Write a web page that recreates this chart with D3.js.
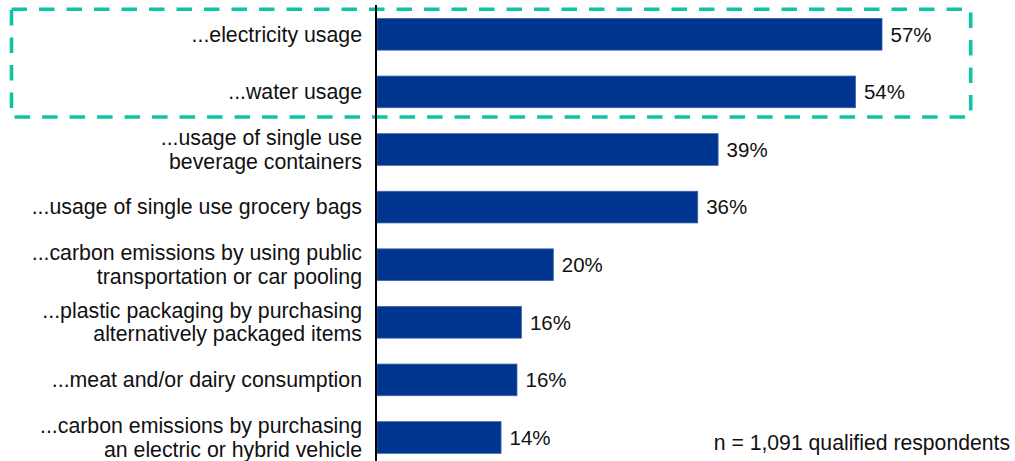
<!DOCTYPE html>
<html>
<head>
<meta charset="utf-8">
<script src="https://cdn.jsdelivr.net/npm/d3@7"></script>
<style>
  html, body { margin: 0; padding: 0; background: #fff; }
  svg { display: block; }
  text { font-family: "Liberation Sans", Arial, sans-serif; fill: #111; }
</style>
</head>
<body>
<svg id="chart" width="1015" height="461"></svg>
<script>
// ---- data ----
const categories = [
  ["...electricity usage"],
  ["...water usage"],
  ["...usage of single use", "beverage containers"],
  ["...usage of single use grocery bags"],
  ["...carbon emissions by using public", "transportation or car pooling"],
  ["...plastic packaging by purchasing", "alternatively packaged items"],
  ["...meat and/or dairy consumption"],
  ["...carbon emissions by purchasing", "an electric or hybrid vehicle"]
];
const values = [57.0, 54.0, 38.5, 36.2, 19.9, 16.3, 15.8, 14.0];
const highlighted = [0, 1];
const footnote = "n = 1,091 qualified respondents";

// ---- layout ----
const svg = d3.select("#chart");
const axisX = 377;
const x = d3.scaleLinear().domain([0, 100]).range([axisX, axisX + 886]);
const keys = categories.map((c, i) => i);
const y = d3.scaleBand().domain(keys).range([5.5, 466.3]).paddingInner(0.45).paddingOuter(0.225);

// highlight box
const hy0 = y(highlighted[0]) - 9.2;
const hy1 = y(highlighted[highlighted.length - 1]) + y.bandwidth() + 9.2;
svg.append("rect")
  .attr("x", 11.5).attr("y", hy0)
  .attr("width", 970.7 - 11.5).attr("height", hy1 - hy0)
  .attr("fill", "none")
  .attr("stroke", "#0fc3a6")
  .attr("stroke-width", 3.6)
  .attr("stroke-dasharray", "15.5,12");

// bars
svg.append("g").selectAll("rect")
  .data(values)
  .join("rect")
  .attr("x", x(0))
  .attr("y", (d, i) => y(i))
  .attr("width", d => x(d) - x(0))
  .attr("height", y.bandwidth())
  .attr("fill", "#00358f")
  .attr("stroke", "#3f63aa")
  .attr("stroke-width", 0.8);

// value labels
svg.append("g").selectAll("text")
  .data(values)
  .join("text")
  .attr("x", d => x(d) + 8.5)
  .attr("y", (d, i) => y(i) + y.bandwidth() / 2 + 7.3)
  .attr("font-size", 20.5)
  .text(d => Math.round(d) + "%");

// category labels
const lineH = 23.6;
const lab = svg.append("g").selectAll("text")
  .data(categories)
  .join("text")
  .attr("text-anchor", "end")
  .attr("font-size", 21.3)
  .attr("y", (d, i) => y(i) + y.bandwidth() / 2 + 7.3 - (d.length - 1) * lineH / 2);
lab.selectAll("tspan")
  .data(d => d)
  .join("tspan")
  .attr("x", 362)
  .attr("dy", (d, j) => j === 0 ? 0 : lineH)
  .text(d => d);

// axis line
svg.append("line")
  .attr("x1", 376).attr("x2", 376)
  .attr("y1", 5).attr("y2", 461)
  .attr("stroke", "#000")
  .attr("stroke-width", 2);

// footnote
svg.append("text")
  .attr("x", 1010).attr("y", 450)
  .attr("text-anchor", "end")
  .attr("font-size", 21.2)
  .text(footnote);
</script>
</body>
</html>
